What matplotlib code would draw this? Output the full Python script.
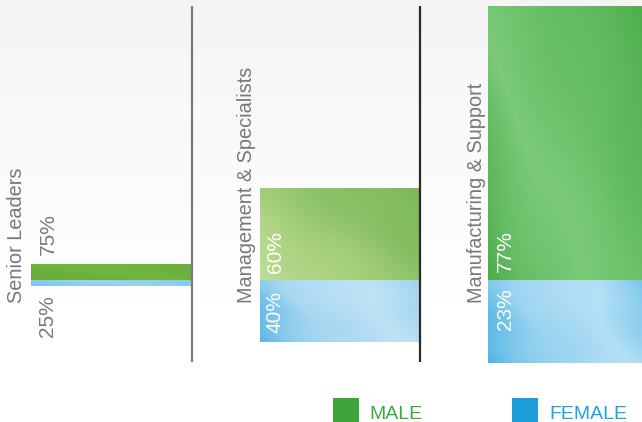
import numpy as np
import matplotlib
matplotlib.use("Agg")
import matplotlib.pyplot as plt
from matplotlib.colors import LinearSegmentedColormap
from matplotlib.patches import Rectangle

plt.rcParams['font.family'] = ['Liberation Sans', 'DejaVu Sans']

# ---- data ----
categories = ["Senior Leaders", "Management & Specialists", "Manufacturing & Support"]
male_pct = [75, 60, 77]
female_pct = [25, 40, 23]
male_size = [16, 92, 274]     # relative bar heights (headcount scale)
female_size = [6, 62, 83]
legend_labels = ["MALE", "FEMALE"]

# ---- layout ----
W, H = 642, 422
fig = plt.figure(figsize=(W / 100, H / 100), dpi=100)
ax = fig.add_axes([0, 0, 1, 1])
base_px = 280
ax.set_xlim(0, W)
ax.set_ylim(-(H - base_px), base_px)
ax.axis('off')

# background gradient (light grey at top fading to white)
grad = np.linspace(0, 1, 200).reshape(-1, 1)
bg_cmap = LinearSegmentedColormap.from_list('bg', ['#f4f4f4', '#fafafa', '#ffffff'])
ax.imshow(grad, cmap=bg_cmap, extent=[0, W, base_px - 300, base_px], aspect='auto', zorder=0)

bar_left = [31, 260, 488]
bar_width = [161, 159, 154]

male_cmaps = [
    ['#64ab38', '#72b642', '#66ae3a'],
    ['#c2de9a', '#a7d07c', '#88c064', '#7bb95a'],
    ['#4aac4a', '#7ccb7a', '#64bd62', '#4fae4d'],
]
female_cmaps = [
    ['#7ec4e9', '#9bd2ef', '#86c8ec'],
    ['#5ab6e4', '#a8d8f2', '#bfe2f5', '#9fd3ef'],
    ['#4fb4e4', '#9ad4f1', '#b5e0f5', '#7ac6ec'],
]


def textured(patch, colors, angle):
    x0, y0 = patch.get_x(), patch.get_y()
    w, h = patch.get_width(), patch.get_height()
    xx, yy = np.meshgrid(np.linspace(0, 1, 120), np.linspace(0, 1, 120))
    z = np.cos(angle) * xx + np.sin(angle) * yy
    z = z + 0.08 * np.sin(7 * xx + 3 * yy) * np.cos(5 * yy - 2 * xx)
    z = (z - z.min()) / (z.max() - z.min())
    cmap = LinearSegmentedColormap.from_list('t', colors)
    im = ax.imshow(z, cmap=cmap, extent=[x0, x0 + w, min(y0, y0 + h), max(y0, y0 + h)],
                   aspect='auto', origin='lower', zorder=2)
    im.set_clip_path(patch)


mbars = ax.bar(bar_left, male_size, width=bar_width, align='edge', bottom=0,
               color='none', edgecolor='none', zorder=2)
fbars = ax.bar(bar_left, [-v for v in female_size], width=bar_width, align='edge', bottom=0,
               color='none', edgecolor='none', zorder=2)
for i, (mb, fb) in enumerate(zip(mbars, fbars)):
    textured(mb, male_cmaps[i], 0.6)
    textured(fb, female_cmaps[i], 0.3)

# separators
ax.vlines(192, base_px - 362, base_px - 6, color='#7a7a7a', lw=1.6, zorder=3)
ax.vlines(419.5, base_px - 362, base_px - 6, color='#2a2a2a', lw=1.6, zorder=3)

# category labels
cat_x = [17, 246, 476]
for x, c in zip(cat_x, categories):
    ax.text(x, -23, c, rotation=90, ha='center', va='bottom', fontsize=14.3,
            color='#787878', zorder=4)

# percentage labels
pct_x = [48, 275, 505]
male_lab_y = [25, 7, 8]
female_lab_y = [-57, -53, -50]
pct_col = ['#7a7a7a', 'white', 'white']
for i in range(3):
    ax.text(pct_x[i], male_lab_y[i], f"{male_pct[i]}%", rotation=90, ha='center', va='bottom',
            fontsize=15, color=pct_col[i], zorder=4)
    ax.text(pct_x[i], female_lab_y[i], f"{female_pct[i]}%", rotation=90, ha='center', va='bottom',
            fontsize=15, color=pct_col[i], zorder=4)

# legend
leg_y = base_px - 422
leg_h = 24
leg_items = [(333, '#3fa53b', '#5cb85a', 369, '#3aab3a'),
             (512, '#1c9fd8', '#4fb8e6', 549, '#1fa3dc')]
for (px, c1, c2, tx, tc), lab in zip(leg_items, legend_labels):
    r = Rectangle((px, leg_y), 26, leg_h, facecolor=c1, edgecolor='none', zorder=3)
    ax.add_patch(r)
    textured(r, [c1, c2, c1], 0.8)
    ax.text(tx, leg_y + 3, lab, ha='left', va='baseline', fontsize=14, color=tc, zorder=4)

fig.savefig('out.png', dpi=100)
